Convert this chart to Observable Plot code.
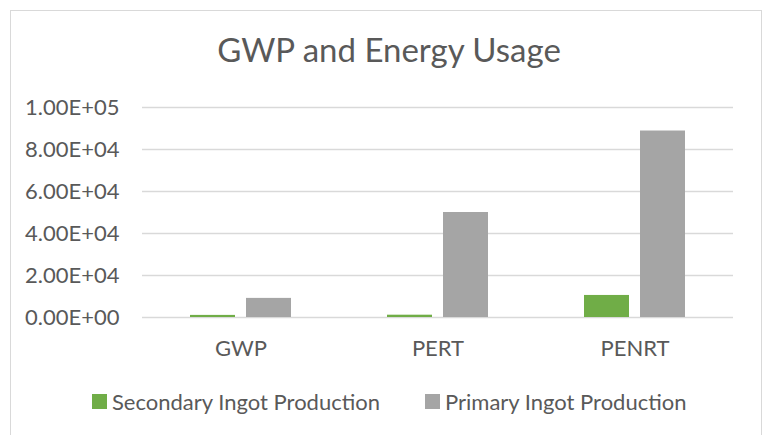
<!DOCTYPE html>
<html>
<head>
<meta charset="utf-8">
<script src="https://cdn.jsdelivr.net/npm/d3@7"></script>
<script src="https://cdn.jsdelivr.net/npm/@observablehq/plot@0.6"></script>
<style>
  html, body { margin: 0; padding: 0; background: #fff; }
  #wrap { position: relative; width: 762px; height: 435px; overflow: hidden; background: #fff; font-family: Lato, "Open Sans", sans-serif; color: #595959; }
  #frame { position: absolute; left: 10px; top: 10px; width: 750px; height: 440px; border: 1px solid #d9d9d9; box-sizing: content-box; }
  #title { position: absolute; left: 0; width: 778px; top: 33px; text-align: center; font-size: 33px; line-height: 33px; white-space: nowrap; }
  #chart { position: absolute; left: 0; top: 80px; }
  .leg { position: absolute; top: 391px; font-size: 22px; line-height: 22px; white-space: nowrap; }
  .sw { position: absolute; width: 15px; height: 15px; top: 394px; }
</style>
</head>
<body>
<div id="wrap">
  <div id="frame"></div>
  <div id="title"></div>
  <div id="chart"></div>
  <div class="sw" id="sw0"></div><div class="leg" id="lg0"></div>
  <div class="sw" id="sw1"></div><div class="leg" id="lg1"></div>
</div>
<script>
const titleText = "GWP and Energy Usage";
const categories = ["GWP", "PERT", "PENRT"];
const seriesNames = ["Secondary Ingot Production", "Primary Ingot Production"];
const seriesColors = ["#70ad47", "#a5a5a5"];
const secondaryValues = [1000, 1100, 10500];
const primaryValues = [9100, 50000, 88800];
const yTicks = [0, 20000, 40000, 60000, 80000, 100000];
const yTickLabels = ["0.00E+00", "2.00E+04", "4.00E+04", "6.00E+04", "8.00E+04", "1.00E+05"];

const table = [];
categories.forEach((c, i) => {
  table.push({category: c, series: seriesNames[0], value: secondaryValues[i]});
  table.push({category: c, series: seriesNames[1], value: primaryValues[i]});
});

document.getElementById("title").textContent = titleText;

const plot = Plot.plot({
  width: 762,
  height: 300,
  marginTop: 27,
  marginBottom: 63,
  marginLeft: 141,
  marginRight: 29,
  style: {fontFamily: "Lato, 'Open Sans', sans-serif", fontSize: "22px", color: "#595959", background: "transparent", overflow: "visible"},
  fx: {domain: categories, paddingInner: 0, paddingOuter: 0},
  x: {domain: seriesNames, paddingInner: 0.193, paddingOuter: 0.825, axis: null},
  y: {domain: [0, 100000], nice: false},
  color: {domain: seriesNames, range: seriesColors},
  marks: [
    Plot.ruleY(yTicks, {stroke: "#d9d9d9", strokeWidth: 1.3}),
    Plot.barY(table, {fx: "category", x: "series", y: "value", fill: "series"}),
    Plot.axisY({ticks: yTicks, tickFormat: d => yTickLabels[yTicks.indexOf(d)], tickSize: 0, tickPadding: 23, label: null, fill: "#595959"}),
    Plot.axisFx({anchor: "bottom", tickSize: 0, tickPadding: 23, label: null, fill: "#595959"})
  ]
});
document.getElementById("chart").appendChild(plot);

const legLeft = [92, 425];
seriesNames.forEach((s, i) => {
  const sw = document.getElementById("sw" + i);
  sw.style.left = legLeft[i] + "px";
  sw.style.background = seriesColors[i];
  const lg = document.getElementById("lg" + i);
  lg.style.left = (legLeft[i] + 20) + "px";
  lg.textContent = s;
});
</script>
</body>
</html>
